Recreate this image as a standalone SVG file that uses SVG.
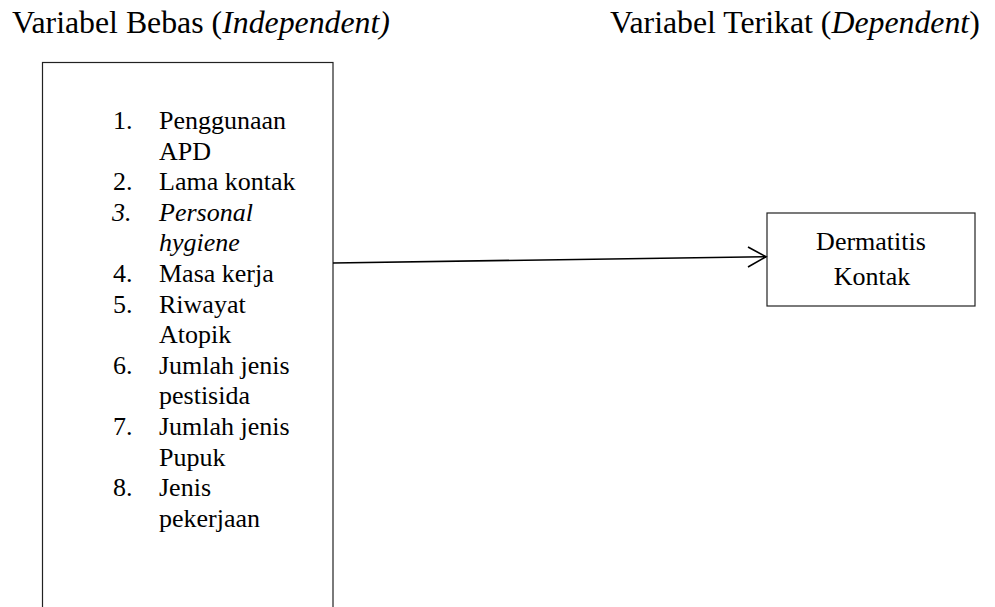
<svg xmlns="http://www.w3.org/2000/svg" width="995" height="607" viewBox="0 0 995 607">
<style>
  text { font-family: "Liberation Serif", "Times New Roman", serif; fill: #000; }
  .title { font-size: 31.8px; }
  .item { font-size: 26px; }
  .it { font-style: italic; }
  .box { fill: #fff; stroke: #222; stroke-width: 1.2; }
  .conn { fill: none; stroke: #000; stroke-width: 1.6; }
</style>
<rect width="995" height="607" fill="#fff"/>
<g id="titles">
  <text class="title" x="12" y="33">Variabel Bebas (<tspan class="it">Independent)</tspan></text>
  <text class="title" x="610" y="33">Variabel Terikat (<tspan class="it">Dependent</tspan>)</text>
</g>
<g id="independent">
  <rect class="box" x="42.5" y="62.5" width="290.5" height="580"/>
  <g class="item">
    <text x="113" y="129">1.</text><text x="159" y="129">Penggunaan</text>
    <text x="159" y="159.6">APD</text>
    <text x="113" y="190.2">2.</text><text x="159" y="190.2">Lama kontak</text>
    <text class="it" x="112" y="220.8">3.</text><text class="it" x="159" y="220.8">Personal</text>
    <text class="it" x="159" y="251.4">hygiene</text>
    <text x="113" y="282">4.</text><text x="159" y="282">Masa kerja</text>
    <text x="113" y="312.6">5.</text><text x="159" y="312.6">Riwayat</text>
    <text x="159" y="343.2">Atopik</text>
    <text x="113" y="373.8">6.</text><text x="159" y="373.8">Jumlah jenis</text>
    <text x="159" y="404.4">pestisida</text>
    <text x="113" y="435">7.</text><text x="159" y="435">Jumlah jenis</text>
    <text x="159" y="465.6">Pupuk</text>
    <text x="113" y="496.2">8.</text><text x="159" y="496.2">Jenis</text>
    <text x="159" y="526.8">pekerjaan</text>
  </g>
</g>
<g id="dependent">
  <rect class="box" x="767" y="213" width="208" height="93"/>
  <text class="item" x="871" y="250" text-anchor="middle">Dermatitis</text>
  <text class="item" x="872" y="285" text-anchor="middle">Kontak</text>
</g>
<g id="connectors">
  <path class="conn" d="M333 263 L766 256.7"/>
  <path class="conn" d="M748 247 L766 256.7 L748 267"/>
</g>
</svg>
